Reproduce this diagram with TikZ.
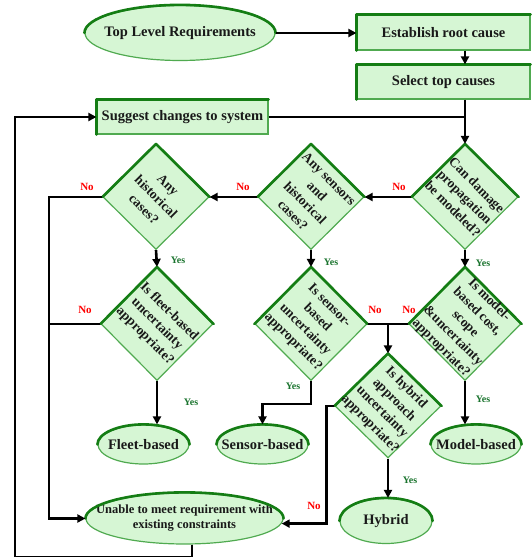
\documentclass[tikz,border=0pt]{standalone}
\usepackage{fontspec}
\setmainfont{Liberation Serif}
\usetikzlibrary{shapes.geometric,arrows.meta}
\definecolor{boxfill}{RGB}{214,246,212}
\definecolor{darkedge}{RGB}{20,125,20}
\definecolor{lightedge}{RGB}{80,170,80}
\definecolor{nored}{RGB}{255,0,0}
\definecolor{yesgreen}{RGB}{25,115,45}
\newcommand\ovtop[3]{\draw[topedge] (#1.east) arc[start angle=0, end angle=180, x radius=#2, y radius=#3];}
\newcommand\bxtop[1]{\draw[topedge] (#1.south west) -- (#1.north west) -- (#1.north east);}
\newcommand\dtop[1]{\draw[topedge] (#1.west) -- (#1.north) -- (#1.east);}
\newcommand\ztxt[1]{\makebox[0pt]{#1}}
\begin{document}
\begin{tikzpicture}[x=1pt,y=1pt,
  base/.style={fill=boxfill, draw=lightedge, line width=1.2pt, font=\fontsize{14.5}{16}\selectfont\bfseries, text=black!90},
  rbox/.style={base, rectangle, inner sep=0pt},
  oval/.style={base, ellipse, inner sep=0pt},
  dia/.style={fill=boxfill, draw=lightedge, line width=1.2pt, diamond, inner sep=0pt},
  dtext/.style={rotate=-45, align=center, font=\fontsize{13.5}{17}\selectfont\bfseries, inner sep=0pt, text=black!90},
  topedge/.style={draw=darkedge, line width=2.6pt, line cap=round, line join=round},
  conn/.style={line width=2.6pt, black},
  arr/.style={conn, -{Triangle[length=8pt,width=8pt]}},
  nol/.style={font=\fontsize{11}{12}\selectfont\bfseries, text=nored},
  yesl/.style={font=\fontsize{10}{12}\selectfont\bfseries, text=yesgreen}]
\useasboundingbox (0,0) rectangle (531,557);

% boxes and ovals
\node[oval, minimum width=190pt, minimum height=55pt] (tlr) at (180,524) {\ztxt{Top Level Requirements}};
\node[rbox, minimum width=173pt, minimum height=35pt] (erc) at (443.5,524.5) {Establish root cause};
\node[rbox, minimum width=173pt, minimum height=34pt] (stc) at (443.5,475) {Select top causes};
\node[rbox, minimum width=171pt, minimum height=34pt] (scs) at (182.5,440) {Suggest changes to system};
\node[oval, minimum width=91pt, minimum height=39pt] (fleet) at (143.5,112.5) {\ztxt{Fleet-based}};
\node[oval, minimum width=91pt, minimum height=39pt] (sensor) at (262.5,112.5) {\ztxt{Sensor-based}};
\node[oval, minimum width=90pt, minimum height=39pt] (model) at (476,112.5) {\ztxt{Model-based}};
\node[oval, minimum width=92pt, minimum height=45pt] (hybrid) at (386,36) {\ztxt{Hybrid}};
\node[oval, minimum width=197pt, minimum height=51pt, font=\fontsize{12.5}{15}\selectfont\bfseries] (unable) at (184.5,38.5) {\ztxt{\begin{tabular}{@{}c@{}}Unable to meet requirement with\\existing constraints\end{tabular}}};

% diamonds
\node[dia, minimum width=106pt, minimum height=105pt] (d1) at (156,360) {};
\node[dia, minimum width=106pt, minimum height=105pt] (d2) at (311,360) {};
\node[dia, minimum width=106pt, minimum height=105pt] (d3) at (465,360) {};
\node[dia, minimum width=112pt, minimum height=113pt] (d4) at (157,233) {};
\node[dia, minimum width=112pt, minimum height=113pt] (d5) at (311,233) {};
\node[dia, minimum width=112pt, minimum height=113pt] (d6) at (465,233) {};
\node[dia, minimum width=106pt, minimum height=104pt] (d7) at (388,151) {};

\bxtop{erc}\bxtop{stc}\bxtop{scs}
\ovtop{tlr}{95.6}{28.1}\ovtop{fleet}{46.1}{20.1}\ovtop{sensor}{46.1}{20.1}\ovtop{model}{45.6}{20.1}\ovtop{hybrid}{46.6}{23.1}\ovtop{unable}{99.1}{26.1}
\dtop{d1}\dtop{d2}\dtop{d3}\dtop{d4}\dtop{d5}\dtop{d6}\dtop{d7}

\node[dtext] (t1) at (d1) {Any\\historical\\cases?};
\node[dtext] (t2) at (d2) {Any sensors\\and\\historical\\cases?};
\node[dtext] (t3) at (d3) {Can damage\\propagation\\be modeled?};
\node[dtext] (t4) at (d4) {Is fleet-based\\uncertainty\\appropriate?};
\node[dtext] (t5) at (d5) {Is sensor-\\based\\uncertainty\\appropriate?};
\node[dtext] (t6) at (d6) {Is model-\\based cost,\\scope\\\&uncertainty\\appropriate?};
\node[dtext] (t7) at (d7) {Is hybrid\\approach\\uncertainty\\appropriate?};

% connectors
\coordinate (spx) at (465,557);
\coordinate (lx) at (49,0);
\coordinate (bl) at (15,0);
\draw[arr] (tlr.east) -- (tlr.east -| erc.west);
\draw[arr] (erc.south -| spx) -- (stc.north -| spx);
\draw[arr] (stc.south -| d3.north) -- (d3.north);
\draw[conn] (scs.east) -- (scs.east -| d3.north);
\draw[arr] (d3.west) -- (d2.east);
\draw[arr] (d2.west) -- (d1.east);
\draw[arr] (d1.west) -- (d1.west -| lx) |- (unable.west);
\draw[conn] (d4.west) -- (d4.west -| lx);
\draw[arr] (d1.south) -- (d4.north);
\draw[arr] (d2.south) -- (d5.north);
\draw[arr] (d3.south) -- (d6.north);
\draw[arr] (d4.south) -- (d4.south |- fleet.north);
\draw[arr] (d5.south) -- ++(0,-23) -| (sensor.north);
\draw[conn] (d5.east) -- (d6.west);
\draw[arr] (d5.east -| d7.north) -- (d7.north);
\draw[arr] (d6.south) -- (d6.south |- model.north);
\draw[arr] (d7.south) -- (d7.south |- hybrid.north);
\draw[arr] (d7.west) -- ++(-8,0) |- (unable.-3);
\draw[arr] ([xshift=7.5pt]unable.south) |- (bl) |- (scs.west);

% labels
\node[nol] (n1) at (399,370) {No};
\node[nol] (n2) at (243,370) {No};
\node[nol] (n3) at (87,370) {No};
\node[nol] (n4) at (85,247) {No};
\node[nol] (n5) at (375,247) {No};
\node[nol] (n6) at (409,247) {No};
\node[nol] (n7) at (314,51) {No};
\node[yesl] (y1) at (178,297) {Yes};
\node[yesl] (y2) at (331,295) {Yes};
\node[yesl] (y3) at (483,294) {Yes};
\node[yesl] (y4) at (191,155) {Yes};
\node[yesl] (y5) at (293,171) {Yes};
\node[yesl] (y6) at (483,158) {Yes};
\node[yesl] (y7) at (410,77) {Yes};
\end{tikzpicture}
\end{document}
